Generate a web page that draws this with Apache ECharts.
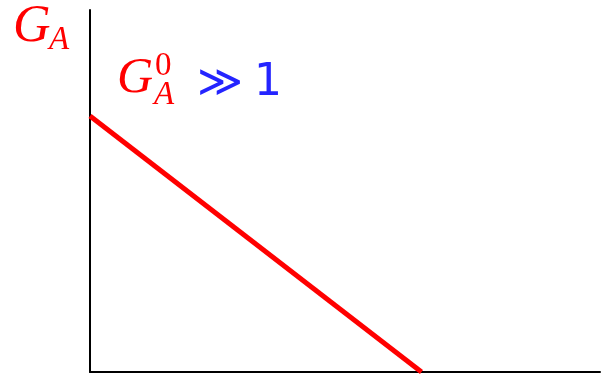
<!DOCTYPE html>
<html>
<head>
<meta charset="utf-8">
<script src="https://cdn.jsdelivr.net/npm/echarts@6/dist/echarts.min.js"></script>
<style>html,body{margin:0;padding:0;background:#fff}#c{width:601px;height:374px}</style>
</head>
<body>
<div id="c"></div>
<script>
// Linear decrease of G_A: intercept on the vertical axis, zero crossing on the horizontal one
const xValues = [0, 6.5];
const gValues = [7.07, 0];

const RED = '#ff0000';
const BLUE = '#2424ff';
const serifItalic = (size) => 'italic ' + size + 'px "Liberation Serif"';

function label(text, x, y, font, fill) {
  return { type: 'text', x: x, y: y, style: { text: text, font: font, fill: fill, align: 'left', verticalAlign: 'middle' } };
}

const chart = echarts.init(document.getElementById('c'));
chart.setOption({
  animation: false,
  grid: { left: 90, right: 1, top: 10, bottom: 2 },
  xAxis: {
    type: 'value', min: 0, max: 10,
    axisLine: { show: true, lineStyle: { color: '#000', width: 2 } },
    axisTick: { show: false }, axisLabel: { show: false }, splitLine: { show: false }
  },
  yAxis: {
    type: 'value', min: 0, max: 10,
    axisLine: { show: true, lineStyle: { color: '#000', width: 2 } },
    axisTick: { show: false }, axisLabel: { show: false }, splitLine: { show: false }
  },
  series: [{
    type: 'line',
    data: xValues.map((x, i) => [x, gValues[i]]),
    symbol: 'none',
    lineStyle: { color: RED, width: 5 },
    clip: false
  }],
  graphic: [
    // axis title G_A
    label('G', 13, 27, serifItalic(52), RED),
    label('A', 49, 40, serifItalic(33), RED),
    // annotation G_A^0 >> 1
    label('G', 117, 79, serifItalic(50), RED),
    label('0', 155, 66, '33px "Liberation Serif"', RED),
    label('A', 154, 95, serifItalic(33), RED),
    label('≫', 197, 85, '44px "DejaVu Sans"', BLUE),
    label('1', 254, 84, '44px "DejaVu Sans"', BLUE)
  ]
});
</script>
</body>
</html>
